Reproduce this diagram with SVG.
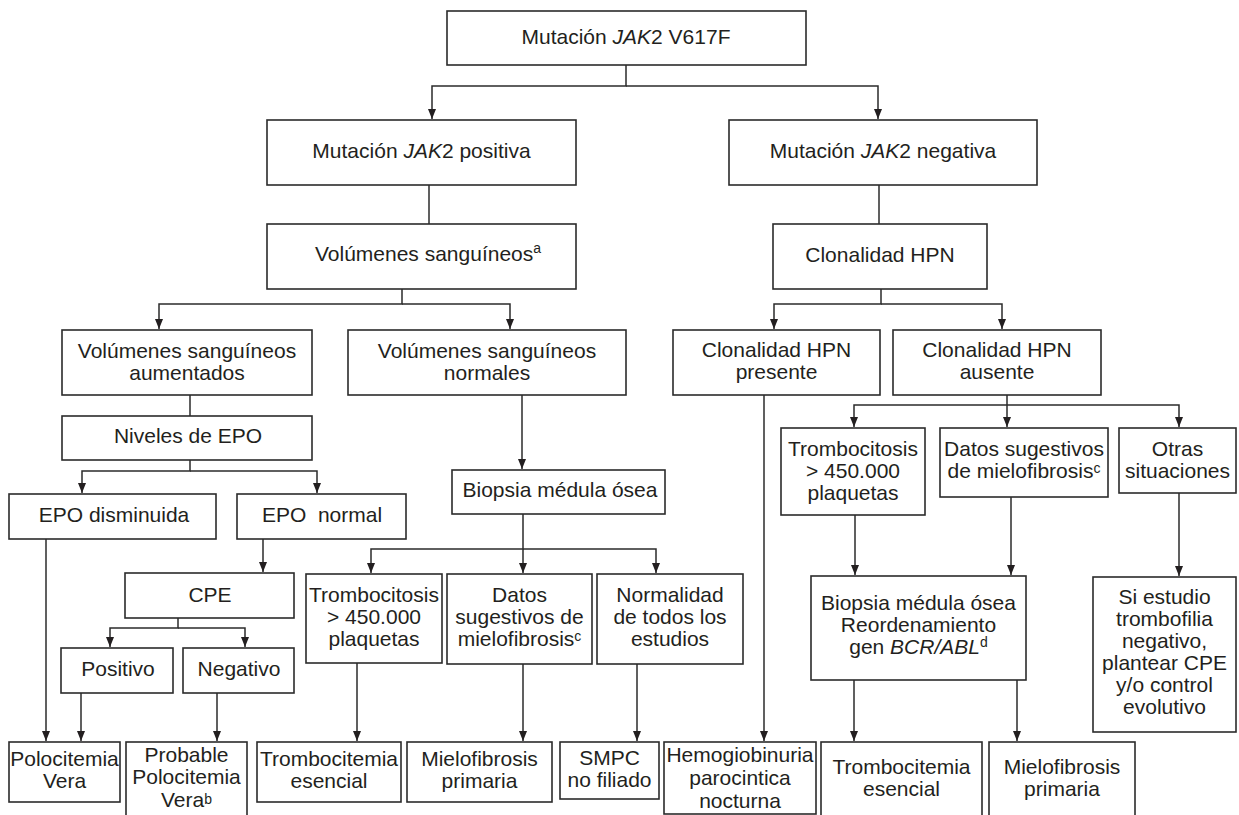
<svg xmlns="http://www.w3.org/2000/svg" width="1239" height="815" viewBox="0 0 1239 815">
<style>
rect{fill:#fff;stroke:#2b2b2b;stroke-width:1.6}
text{font-family:"Liberation Sans",Arial,sans-serif;font-size:21px;fill:#231f20;text-anchor:middle}
.c{fill:none;stroke:#2b2b2b;stroke-width:1.5}
.i{font-style:italic}
.s{font-size:14px}
</style>
<defs>
<marker id="ah" viewBox="0 0 10 8" refX="10" refY="4" markerWidth="10" markerHeight="8" markerUnits="userSpaceOnUse" orient="auto">
<path d="M0,0 L10,4 L0,8 z" fill="#231f20"/>
</marker>
</defs>
<rect x="0" y="0" width="1239" height="815" style="fill:#fff;stroke:none"/>
<g id="connectors">
<path class="c" d="M626,65 V86 H432 V119" marker-end="url(#ah)"/>
<path class="c" d="M626,86 H878 V119" marker-end="url(#ah)"/>
<path class="c" d="M429,185 V224"/>
<path class="c" d="M879,185 V224"/>
<path class="c" d="M402,289 V304 H159 V329" marker-end="url(#ah)"/>
<path class="c" d="M402,304 H510 V329" marker-end="url(#ah)"/>
<path class="c" d="M190,395 V416"/>
<path class="c" d="M190,460 V471 H82 V493" marker-end="url(#ah)"/>
<path class="c" d="M190,471 H317 V493" marker-end="url(#ah)"/>
<path class="c" d="M46,539 V741" marker-end="url(#ah)"/>
<path class="c" d="M263,539 V572" marker-end="url(#ah)"/>
<path class="c" d="M178,618 V628 H110 V647" marker-end="url(#ah)"/>
<path class="c" d="M178,628 H245 V647" marker-end="url(#ah)"/>
<path class="c" d="M81,693 V741" marker-end="url(#ah)"/>
<path class="c" d="M217,693 V741" marker-end="url(#ah)"/>
<path class="c" d="M522,395 V469" marker-end="url(#ah)"/>
<path class="c" d="M523,514 V549 H371 V573" marker-end="url(#ah)"/>
<path class="c" d="M523,549 V573" marker-end="url(#ah)"/>
<path class="c" d="M523,549 H656 V573" marker-end="url(#ah)"/>
<path class="c" d="M357,663 V741" marker-end="url(#ah)"/>
<path class="c" d="M523,664 V741" marker-end="url(#ah)"/>
<path class="c" d="M637,664 V741" marker-end="url(#ah)"/>
<path class="c" d="M881,289 V304 H774 V329" marker-end="url(#ah)"/>
<path class="c" d="M881,304 H1002 V329" marker-end="url(#ah)"/>
<path class="c" d="M764,395 V741" marker-end="url(#ah)"/>
<path class="c" d="M1007,395 V427" marker-end="url(#ah)"/>
<path class="c" d="M1007,405 H854 V427" marker-end="url(#ah)"/>
<path class="c" d="M1007,405 H1179 V427" marker-end="url(#ah)"/>
<path class="c" d="M855,515 V575" marker-end="url(#ah)"/>
<path class="c" d="M1011,497 V575" marker-end="url(#ah)"/>
<path class="c" d="M1179,493 V576" marker-end="url(#ah)"/>
<path class="c" d="M854,680 V741" marker-end="url(#ah)"/>
<path class="c" d="M1017,680 V741" marker-end="url(#ah)"/>
</g>
<g id="n-root"><rect x="447" y="11" width="359" height="54"/><text x="626" y="44">Mutación <tspan class="i">JAK</tspan>2 V617F</text></g>
<g id="n-pos"><rect x="267" y="120" width="309" height="65"/><text x="421.5" y="158">Mutación <tspan class="i">JAK</tspan>2 positiva</text></g>
<g id="n-neg"><rect x="729" y="120" width="308" height="65"/><text x="883" y="158">Mutación <tspan class="i">JAK</tspan>2 negativa</text></g>
<g id="n-vol"><rect x="267" y="224" width="309" height="65"/><text x="428" y="261">Volúmenes sanguíneos<tspan class="s" dy="-8">a</tspan></text></g>
<g id="n-hpn"><rect x="773" y="224" width="214" height="65"/><text x="880" y="262">Clonalidad HPN</text></g>
<g id="n-aum"><rect x="62" y="330" width="250" height="65"/><text x="187" y="358">Volúmenes sanguíneos<tspan x="187" y="380">aumentados</tspan></text></g>
<g id="n-norm"><rect x="348" y="330" width="278" height="65"/><text x="487" y="358">Volúmenes sanguíneos<tspan x="487" y="380">normales</tspan></text></g>
<g id="n-pres"><rect x="673" y="330" width="207" height="65"/><text x="776.5" y="357">Clonalidad HPN<tspan x="776.5" y="379">presente</tspan></text></g>
<g id="n-aus"><rect x="893" y="330" width="208" height="65"/><text x="997" y="357">Clonalidad HPN<tspan x="997" y="379">ausente</tspan></text></g>
<g id="n-epo"><rect x="62" y="416" width="250" height="44"/><text x="188" y="443">Niveles de EPO</text></g>
<g id="n-epod"><rect x="9" y="494" width="207" height="45"/><text x="114" y="522">EPO disminuida</text></g>
<g id="n-epon"><rect x="237" y="494" width="169" height="45"/><text x="322" y="522" xml:space="preserve">EPO  normal</text></g>
<g id="n-bmo"><rect x="452" y="470" width="213" height="44"/><text x="560" y="497">Biopsia médula ósea</text></g>
<g id="n-cpe"><rect x="125" y="573" width="169" height="45"/><text x="210" y="602">CPE</text></g>
<g id="n-posi"><rect x="61" y="648" width="112" height="45"/><text x="118" y="676">Positivo</text></g>
<g id="n-nega"><rect x="183" y="648" width="111" height="45"/><text x="239" y="676">Negativo</text></g>
<g id="n-tromb1"><rect x="306" y="574" width="136" height="89"/><text x="374" y="602">Trombocitosis<tspan x="374" y="624">&gt; 450.000</tspan><tspan x="374" y="646">plaquetas</tspan></text></g>
<g id="n-datos1"><rect x="447" y="574" width="145" height="90"/><text x="519.5" y="602">Datos<tspan x="519.5" y="624">sugestivos de</tspan><tspan x="519.5" y="646">mielofibrosis<tspan class="s" dy="-5">c</tspan></tspan></text></g>
<g id="n-normal"><rect x="597" y="574" width="146" height="90"/><text x="670" y="602">Normalidad<tspan x="670" y="624">de todos los</tspan><tspan x="670" y="646">estudios</tspan></text></g>
<g id="n-tromb2"><rect x="781" y="428" width="144" height="87"/><text x="853" y="456">Trombocitosis<tspan x="853" y="478">&gt; 450.000</tspan><tspan x="853" y="500">plaquetas</tspan></text></g>
<g id="n-datos2"><rect x="940" y="428" width="168" height="69"/><text x="1024" y="456">Datos sugestivos<tspan x="1024" y="478">de mielofibrosis<tspan class="s" dy="-5">c</tspan></tspan></text></g>
<g id="n-otras"><rect x="1119" y="428" width="117" height="65"/><text x="1177.5" y="456">Otras<tspan x="1177.5" y="478">situaciones</tspan></text></g>
<g id="n-bcr"><rect x="811" y="576" width="215" height="104"/><text x="918.5" y="610">Biopsia médula ósea<tspan x="918.5" y="632">Reordenamiento</tspan><tspan x="918.5" y="654">gen <tspan class="i">BCR/ABL</tspan><tspan class="s" dy="-7">d</tspan></tspan></text></g>
<g id="n-si"><rect x="1093" y="577" width="143" height="155"/><text x="1164.5" y="604">Si estudio<tspan x="1164.5" y="626">trombofilia</tspan><tspan x="1164.5" y="648">negativo,</tspan><tspan x="1164.5" y="670">plantear CPE</tspan><tspan x="1164.5" y="692">y/o control</tspan><tspan x="1164.5" y="714">evolutivo</tspan></text></g>
<g id="n-pv"><rect x="9" y="742" width="111" height="60"/><text x="64.5" y="766">Polocitemia<tspan x="64.5" y="788">Vera</tspan></text></g>
<g id="n-ppv"><rect x="126" y="742" width="121" height="76"/><text x="186.5" y="762">Probable<tspan x="186.5" y="784">Polocitemia</tspan><tspan x="186.5" y="807">Vera<tspan class="s" dy="-3">b</tspan></tspan></text></g>
<g id="n-te1"><rect x="257" y="742" width="144" height="60"/><text x="329" y="766">Trombocitemia<tspan x="329" y="788">esencial</tspan></text></g>
<g id="n-mf1"><rect x="407" y="742" width="145" height="60"/><text x="479.5" y="766">Mielofibrosis<tspan x="479.5" y="788">primaria</tspan></text></g>
<g id="n-smpc"><rect x="560" y="742" width="99" height="57"/><text x="609.5" y="765">SMPC<tspan x="609.5" y="787">no filiado</tspan></text></g>
<g id="n-hpnn"><rect x="664" y="742" width="152" height="72"/><text x="740" y="762">Hemogiobinuria<tspan x="740" y="785">parocintica</tspan><tspan x="740" y="808">nocturna</tspan></text></g>
<g id="n-te2"><rect x="821" y="742" width="161" height="76"/><text x="901.5" y="774">Trombocitemia<tspan x="901.5" y="796">esencial</tspan></text></g>
<g id="n-mf2"><rect x="989" y="742" width="146" height="76"/><text x="1062" y="774">Mielofibrosis<tspan x="1062" y="796">primaria</tspan></text></g>
</svg>
